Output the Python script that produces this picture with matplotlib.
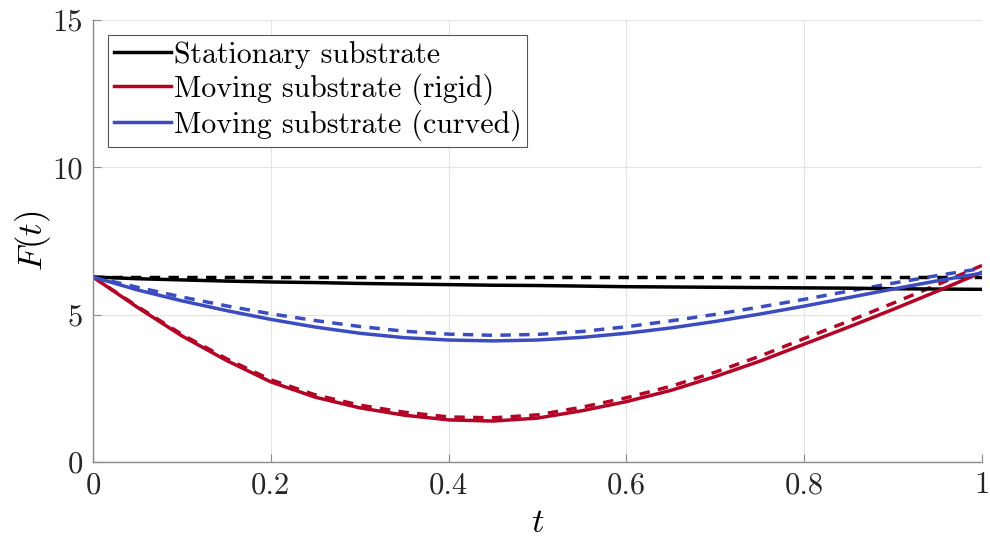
import numpy as np
import matplotlib
matplotlib.use("Agg")
import matplotlib.pyplot as plt

# ── data ───────────────────────────────────────────────────────────────
t = [0.00, 0.05, 0.10, 0.15, 0.20, 0.25, 0.30, 0.35, 0.40, 0.45, 0.50,
     0.55, 0.60, 0.65, 0.70, 0.75, 0.80, 0.85, 0.90, 0.95, 1.00]

stat_solid = [6.28, 6.22, 6.18, 6.14, 6.11, 6.09, 6.06, 6.04, 6.02, 6.00, 5.99,
              5.97, 5.95, 5.94, 5.93, 5.92, 5.91, 5.90, 5.88, 5.87, 5.86]
stat_dash = [6.29] * 21

rigid_solid = [6.28, 5.25, 4.28, 3.45, 2.72, 2.20, 1.84, 1.59, 1.43, 1.39, 1.49,
               1.74, 2.05, 2.43, 2.90, 3.42, 4.00, 4.58, 5.18, 5.80, 6.44]
rigid_dash = [6.28, 5.28, 4.33, 3.51, 2.79, 2.28, 1.93, 1.69, 1.53, 1.50, 1.60,
              1.86, 2.18, 2.57, 3.05, 3.59, 4.19, 4.78, 5.39, 6.02, 6.67]

curved_solid = [6.28, 5.84, 5.47, 5.14, 4.84, 4.58, 4.37, 4.22, 4.14, 4.11, 4.14,
                4.23, 4.37, 4.55, 4.77, 5.02, 5.29, 5.58, 5.87, 6.15, 6.41]
curved_dash = [6.28, 5.93, 5.60, 5.30, 5.03, 4.80, 4.60, 4.44, 4.34, 4.30, 4.33,
               4.43, 4.59, 4.79, 5.01, 5.26, 5.52, 5.80, 6.07, 6.33, 6.57]

labels = ["Stationary substrate", "Moving substrate (rigid)", "Moving substrate (curved)"]
colors = ["black", "#B40426", "#3B4CC0"]

xticks = [0, 0.2, 0.4, 0.6, 0.8, 1]
xticklabels = ["0", "0.2", "0.4", "0.6", "0.8", "1"]
yticks = [0, 5, 10, 15]

# ── style ──────────────────────────────────────────────────────────────
plt.rcParams["font.family"] = "cmr10"
plt.rcParams["mathtext.fontset"] = "cm"
plt.rcParams["axes.formatter.use_mathtext"] = True

fig = plt.figure(figsize=(9.9, 5.41), dpi=100)
ax = fig.add_axes([0.0939, 0.146, 0.898, 0.817])

lw = 2.5
dash = (0, (3.0, 2.4))
solids = [stat_solid, rigid_solid, curved_solid]
dashes = [stat_dash, rigid_dash, curved_dash]
for yd, c in zip(dashes, colors):
    ax.plot(t, yd, color=c, lw=lw, linestyle=dash, solid_joinstyle="round")
for ys, c, lab in zip(solids, colors, labels):
    ax.plot(t, ys, color=c, lw=lw, label=lab, solid_joinstyle="round")

ax.set_xlim(0, 1)
ax.set_ylim(0, 15)
ax.set_xticks(xticks)
ax.set_xticklabels(xticklabels)
ax.set_yticks(yticks)
ax.set_yticklabels([str(v) for v in yticks])

ax.grid(True, color="#e3e3e3", lw=0.8)
ax.set_axisbelow(True)
for side in ["top", "right"]:
    ax.spines[side].set_visible(False)
for side in ["left", "bottom"]:
    ax.spines[side].set_color("#8a8a8a")
    ax.spines[side].set_linewidth(1.0)
ax.tick_params(direction="in", length=6, width=0.8, color="#8a8a8a",
               labelsize=22, labelcolor="#262626", pad=7)

ax.set_xlabel("$t$", fontsize=25, labelpad=6)
ax.set_ylabel("$F(t)$", fontsize=25, labelpad=0)

leg = ax.legend(loc="upper left", fontsize=21.5, frameon=True, fancybox=False,
                handlelength=1.9, handletextpad=0.1, borderpad=0.2,
                labelspacing=0.15, borderaxespad=0.5)
leg.get_frame().set_edgecolor("#555555")
leg.get_frame().set_linewidth(0.8)
leg.get_frame().set_alpha(1.0)

fig.savefig("out.png", dpi=100)
